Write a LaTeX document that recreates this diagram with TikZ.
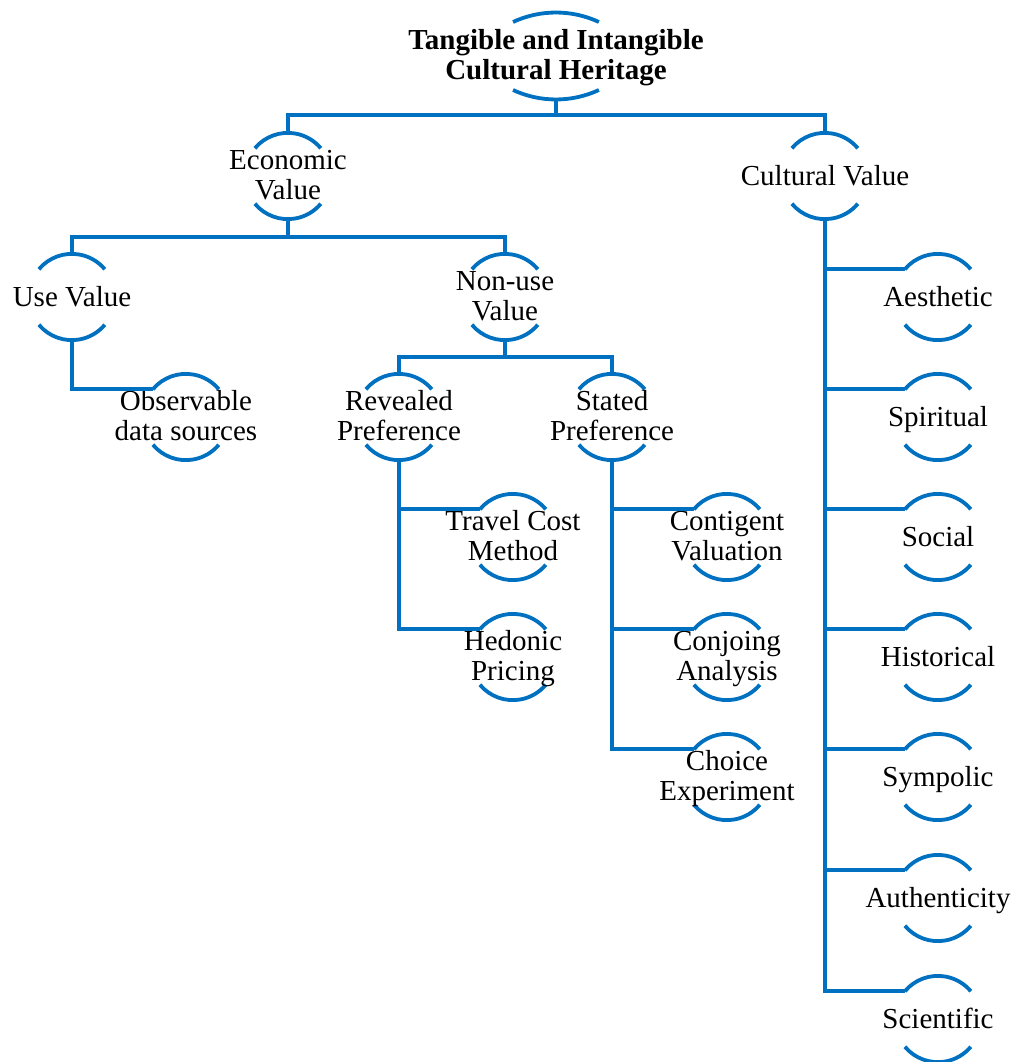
\documentclass[tikz,border=0pt]{standalone}
\usepackage{fontspec}
\setmainfont{Liberation Serif}
\usetikzlibrary{calc}
\definecolor{lineblue}{HTML}{0070C0}
\begin{document}
\begin{tikzpicture}[x=1pt,y=1pt,
  hn/.style={circle,minimum size=86pt,inner sep=0pt,draw=none},
  txt/.style={align=center,inner sep=0pt,anchor=base,font=\fontsize{29}{30}\selectfont,text=black},
  roottxt/.style={txt,font=\fontsize{29}{30}\selectfont\bfseries},
  conn/.style={draw=lineblue,line width=3.8pt},
  arcline/.style={draw=lineblue,line width=3.8pt}]
\useasboundingbox (0,0) rectangle (1017,-1062);
% nodes
\node[hn] (root) at (556,-56) {};
\node[hn] (econ) at (288,-176) {};
\node[hn] (cult) at (825,-176) {};
\node[hn] (use) at (72,-297) {};
\node[hn] (nonuse) at (505,-297) {};
\node[hn] (obs) at (186,-417) {};
\node[hn] (rev) at (399,-417) {};
\node[hn] (stat) at (612,-417) {};
\node[hn] (travel) at (513,-537) {};
\node[hn] (hedonic) at (513,-657) {};
\node[hn] (conting) at (727,-537) {};
\node[hn] (conjoin) at (727,-657) {};
\node[hn] (choice) at (727,-777) {};
\node[hn] (aesth) at (938,-297) {};
\node[hn] (spirit) at (938,-417) {};
\node[hn] (social) at (938,-537) {};
\node[hn] (hist) at (938,-657) {};
\node[hn] (symp) at (938,-777) {};
\node[hn] (auth) at (938,-898) {};
\node[hn] (sci) at (938,-1019) {};
% arcs
\draw[arcline] ($(root.center)+(-43,34)$) arc[start angle=114.9,end angle=65.1,radius=102];
\draw[arcline] ($(root.center)+(-43,-34)$) arc[start angle=245.1,end angle=294.9,radius=102];
\foreach \n in {econ,cult,use,nonuse,obs,rev,stat,travel,hedonic,conting,conjoin,choice,aesth,spirit,social,hist,symp,auth,sci}{
  \draw[arcline] (\n.140) arc[start angle=140,end angle=40,radius=43];
  \draw[arcline] (\n.220) arc[start angle=220,end angle=320,radius=43];
}
% texts: anchor=base is the last line's baseline
\node[roottxt] (root-t) at ($(root)+(0,-23.5)$) {Tangible and Intangible\\Cultural Heritage};
\node[txt] (econ-t) at ($(econ)+(0,-23.5)$) {Economic\\Value};
\node[txt] (cult-t) at ($(cult)+(0,-9.5)$) {Cultural Value};
\node[txt] (use-t) at ($(use)+(0,-9.5)$) {Use Value};
\node[txt] (nonuse-t) at ($(nonuse)+(0,-23.5)$) {Non-use\\Value};
\node[txt] (obs-t) at ($(obs)+(0,-23.5)$) {Observable\\data sources};
\node[txt] (rev-t) at ($(rev)+(0,-23.5)$) {Revealed\\Preference};
\node[txt] (stat-t) at ($(stat)+(0,-23.5)$) {Stated\\Preference};
\node[txt] (travel-t) at ($(travel)+(0,-23.5)$) {Travel Cost\\Method};
\node[txt] (hedonic-t) at ($(hedonic)+(0,-23.5)$) {Hedonic\\Pricing};
\node[txt] (conting-t) at ($(conting)+(0,-23.5)$) {Contigent\\Valuation};
\node[txt] (conjoin-t) at ($(conjoin)+(0,-23.5)$) {Conjoing\\Analysis};
\node[txt] (choice-t) at ($(choice)+(0,-23.5)$) {Choice\\Experiment};
\node[txt] (aesth-t) at ($(aesth)+(0,-9.5)$) {Aesthetic};
\node[txt] (spirit-t) at ($(spirit)+(0,-9.5)$) {Spiritual};
\node[txt] (social-t) at ($(social)+(0,-9.5)$) {Social};
\node[txt] (hist-t) at ($(hist)+(0,-9.5)$) {Historical};
\node[txt] (symp-t) at ($(symp)+(0,-9.5)$) {Sympolic};
\node[txt] (auth-t) at ($(auth)+(0,-9.5)$) {Authenticity};
\node[txt] (sci-t) at ($(sci)+(0,-9.5)$) {Scientific};
% bars
\coordinate (b1) at (556,-115);
\coordinate (b2) at (288,-237);
\coordinate (b3) at (505,-357);
\draw[conn] (root.south) -- (b1);
\draw[conn] (econ.north) |- (b1) -| (cult.north);
\draw[conn] (econ.south) -- (b2);
\draw[conn] (use.north) |- (b2) -| (nonuse.north);
\draw[conn] (use.south) |- (obs.140);
\draw[conn] (nonuse.south) -- (b3);
\draw[conn] (rev.north) |- (b3) -| (stat.north);
\draw[conn] (rev.south) |- (hedonic.140);
\draw[conn] (rev.south |- travel.140) -- (travel.140);
\draw[conn] (stat.south) |- (choice.140);
\draw[conn] (stat.south |- conting.140) -- (conting.140);
\draw[conn] (stat.south |- conjoin.140) -- (conjoin.140);
\draw[conn] (cult.south) |- (sci.140);
\foreach \n in {aesth,spirit,social,hist,symp,auth}{
  \draw[conn] (cult.south |- \n.140) -- (\n.140);
}
\end{tikzpicture}
\end{document}
